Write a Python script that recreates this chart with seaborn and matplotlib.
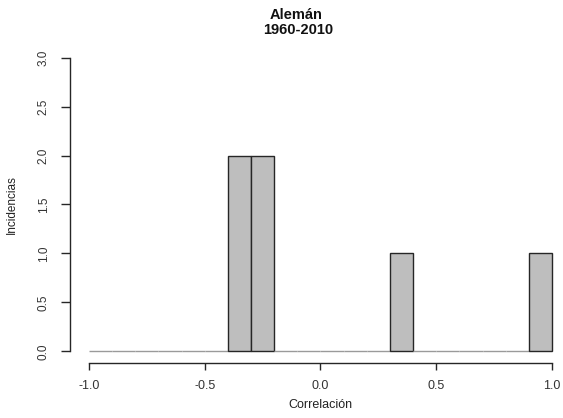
import numpy as np
import matplotlib.pyplot as plt
import seaborn as sns

# histogram of correlations, bins of width 0.1 from -1 to 1
bin_edges = [-1.0, -0.9, -0.8, -0.7, -0.6, -0.5, -0.4, -0.3, -0.2, -0.1, 0.0,
             0.1, 0.2, 0.3, 0.4, 0.5, 0.6, 0.7, 0.8, 0.9, 1.0]
counts = [0, 0, 0, 0, 0, 0, 2, 2, 0, 0, 0, 0, 0, 1, 0, 0, 0, 0, 0, 1]
x_ticks = [-1.0, -0.5, 0.0, 0.5, 1.0]
x_ticklabels = ["-1.0", "-0.5", "0.0", "0.5", "1.0"]
y_ticks = [0.0, 0.5, 1.0, 1.5, 2.0, 2.5, 3.0]
y_ticklabels = ["0.0", "0.5", "1.0", "1.5", "2.0", "2.5", "3.0"]

title_1 = "Alemán"
title_2 = "1960-2010"
x_label = "Correlación"
y_label = "Incidencias"


def main():
    sns.set_style("ticks")
    plt.rcParams['font.family'] = ['Liberation Sans', 'DejaVu Sans']

    edges = np.array(bin_edges)
    mids = (edges[:-1] + edges[1:]) / 2

    W, H = 563, 418
    fig = plt.figure(figsize=(W / 100, H / 100), dpi=100)
    ax = fig.add_axes([70 / W, 1 - 363 / H, 493 / W, 317 / H])

    sns.histplot(x=mids, weights=counts, bins=bin_edges, color="#bebebe",
                 edgecolor="#262626", linewidth=1.0, alpha=1, ax=ax)
    # empty bins show as a grey line on the baseline
    for p in ax.patches:
        if p.get_height() == 0:
            p.set_edgecolor("#9a9a9a")

    ax.set_xlim(-1.082, 1.0475)
    ax.set_ylim(-0.12, 3.12)

    sns.despine(ax=ax)
    ax.spines["left"].set_bounds(0, 3)
    ax.spines["bottom"].set_bounds(-1, 1)
    for s in ["left", "bottom"]:
        ax.spines[s].set_color("#262626")
        ax.spines[s].set_linewidth(1.0)

    ax.set_xticks(x_ticks, x_ticklabels)
    ax.set_yticks(y_ticks, y_ticklabels)
    ax.tick_params(axis="x", length=5, width=1.0, color="#262626", pad=7,
                   labelsize=9, labelcolor="#333333")
    ax.tick_params(axis="y", length=6.5, width=1.0, color="#262626", pad=8,
                   labelsize=8.5, labelcolor="#333333")
    for t in ax.get_yticklabels():
        t.set_rotation(90)
        t.set_va("center")

    ax.set_xlabel(x_label, fontsize=9, color="#222222")
    ax.xaxis.set_label_coords(250 / 493, (363 - 405) / 317)
    ax.xaxis.label.set_va("center")
    ax.set_ylabel(y_label, fontsize=8.5, color="#222222")
    ax.yaxis.set_label_coords((12 - 70) / 493, (363 - 205) / 317)
    ax.yaxis.label.set_va("center")

    fig.text(296 / W, 1 - 19 / H, title_1, ha="center", va="baseline",
             fontsize=10.5, fontweight="bold", color="#111111")
    fig.text(298 / W, 1 - 34 / H, title_2, ha="center", va="baseline",
             fontsize=10.5, fontweight="bold", color="#111111")

    fig.savefig("out.png", dpi=100)
    plt.close(fig)


if __name__ == '__main__':
    main()
